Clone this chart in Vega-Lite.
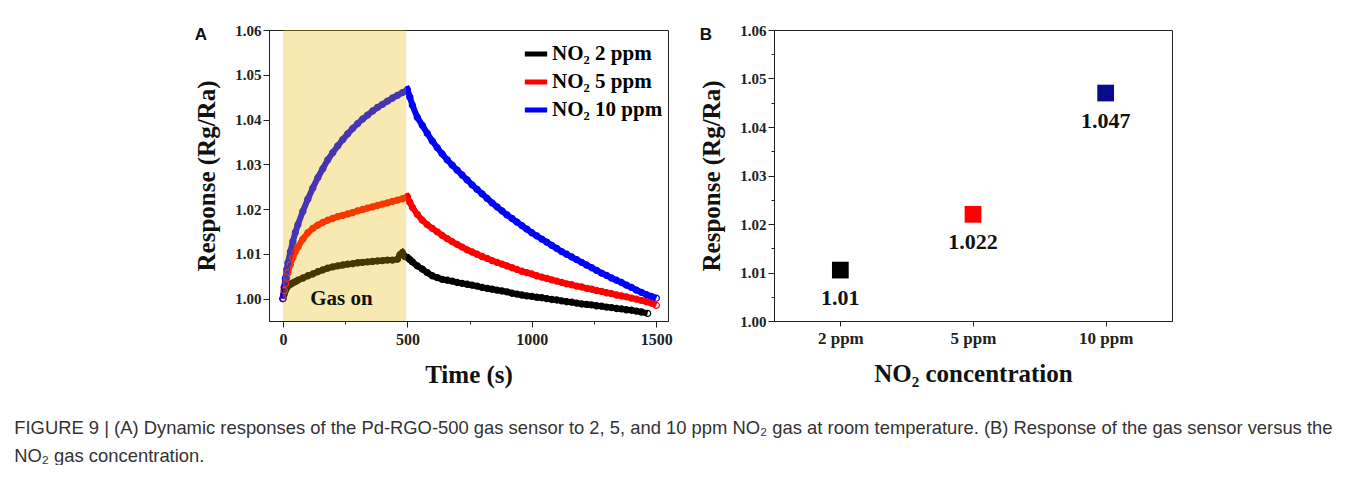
{
  "$schema": "https://vega.github.io/schema/vega-lite/v6.json",
  "background": "white",
  "padding": {"left": 14, "top": 22, "right": 0, "bottom": 0},
  "title": {
    "text": ["FIGURE 9 | (A) Dynamic responses of the Pd-RGO-500 gas sensor to 2, 5, and 10 ppm NO₂ gas at room temperature. (B) Response of the gas sensor versus the", "NO₂ gas concentration."],
    "orient": "bottom", "anchor": "start", "frame": "bounds", "dx": -180, "offset": 31,
    "font": "Liberation Sans", "fontSize": 18.4, "fontWeight": "normal", "color": "#333", "lineHeight": 28
  },
  "spacing": 26,
  "resolve": {"scale": {"color": "independent", "x": "independent", "y": "independent"}, "legend": {"color": "independent"}},
  "hconcat": [
    {
      "width": 399, "height": 291,
      "title": {"text": "A", "anchor": "start", "frame": "bounds", "font": "Liberation Sans", "fontSize": 17, "fontWeight": "bold", "color": "#111", "offset": -21},
      "layer": [
        {
          "data": {"name": "curves"},
          "mark": {"type": "line", "strokeWidth": 6},
          "encoding": {
            "x": {"field": "t", "type": "quantitative", "scale": {"domain": [-56, 1547], "nice": false, "zero": false},
              "axis": {"title": "Time (s)", "values": [0, 250, 500, 750, 1000, 1250, 1500], "labelExpr": "datum.value % 500 === 0 ? datum.label : ''", "format": "d",
                "tickSize": {"condition": {"test": "datum.value % 500 !== 0", "value": 3}, "value": 6}}},
            "y": {"field": "r", "type": "quantitative", "scale": {"domain": [0.995, 1.06], "nice": false, "zero": false},
              "axis": {"title": "Response (Rg/Ra)", "values": [1.0, 1.005, 1.01, 1.015, 1.02, 1.025, 1.03, 1.035, 1.04, 1.045, 1.05, 1.055, 1.06], "format": ".2f",
                "labelExpr": "abs(datum.value*100 - round(datum.value*100)) < 0.01 ? datum.label : ''",
                "tickSize": {"condition": {"test": "abs(datum.value*100 - round(datum.value*100)) > 0.01", "value": 3}, "value": 6}}},
            "color": {"field": "s", "type": "nominal", "scale": {"domain": ["2 ppm", "5 ppm", "10 ppm"], "range": ["#000000", "#FF0000", "#0000FF"]},
              "legend": {"title": null, "orient": "none", "legendX": 253, "legendY": 10, "symbolType": "stroke", "symbolStrokeWidth": 5, "symbolSize": 500,
                "labelFont": "Liberation Serif", "labelFontWeight": "bold", "labelFontSize": 21, "rowPadding": 4, "labelOffset": 2,
                "labelExpr": "'NO₂ ' + datum.label",
                "encoding": {"labels": {"update": {"fill": {"signal": "datum.value === '2 ppm' ? '#000000' : datum.value === '5 ppm' ? '#FF0000' : '#0000FF'"}}}}}}
          }
        },
        {
          "data": {"name": "curves"},
          "mark": {"type": "point", "filled": false, "size": 38, "strokeWidth": 1.2, "opacity": 1},
          "encoding": {
            "x": {"field": "t", "type": "quantitative"},
            "y": {"field": "r", "type": "quantitative"},
            "color": {"field": "s", "type": "nominal"}
          }
        },
        {
          "data": {"values": [{"t0": 0, "t1": 495}]},
          "mark": {"type": "rect", "color": "#E8B400", "opacity": 0.3},
          "encoding": {
            "x": {"field": "t0", "type": "quantitative"},
            "x2": {"field": "t1"}
          }
        },
        {
          "data": {"values": [{"t": 235, "r": 1.0, "label": "Gas on"}]},
          "mark": {"type": "text", "font": "Liberation Serif", "fontWeight": "bold", "fontSize": 21, "color": "#111", "baseline": "middle"},
          "encoding": {
            "x": {"field": "t", "type": "quantitative"},
            "y": {"field": "r", "type": "quantitative"},
            "text": {"field": "label"}
          }
        }
      ]
    },
    {
      "width": 398, "height": 291,
      "title": {"text": "B", "anchor": "start", "frame": "bounds", "font": "Liberation Sans", "fontSize": 17, "fontWeight": "bold", "color": "#111", "offset": -21},
      "data": {"values": [
        {"c": "2 ppm", "r": 1.0105, "lab": "1.01"},
        {"c": "5 ppm", "r": 1.022, "lab": "1.022"},
        {"c": "10 ppm", "r": 1.047, "lab": "1.047"}
      ]},
      "encoding": {
        "x": {"field": "c", "type": "nominal", "sort": null, "scale": {"type": "point", "padding": 0.5},
          "axis": {"title": "NO₂ concentration", "labelAngle": 0, "labelFontSize": 17}},
        "y": {"field": "r", "type": "quantitative", "scale": {"domain": [1.0, 1.06], "nice": false, "zero": false},
          "axis": {"title": "Response (Rg/Ra)", "values": [1.0, 1.005, 1.01, 1.015, 1.02, 1.025, 1.03, 1.035, 1.04, 1.045, 1.05, 1.055, 1.06], "format": ".2f",
            "labelExpr": "abs(datum.value*100 - round(datum.value*100)) < 0.01 ? datum.label : ''",
            "tickSize": {"condition": {"test": "abs(datum.value*100 - round(datum.value*100)) > 0.01", "value": 3}, "value": 6}}}
      },
      "layer": [
        {
          "mark": {"type": "square", "filled": true, "size": 280, "opacity": 1},
          "encoding": {"color": {"field": "c", "type": "nominal", "scale": {"domain": ["2 ppm", "5 ppm", "10 ppm"], "range": ["#000000", "#FF0000", "#0A0A8C"]}, "legend": null}}
        },
        {
          "mark": {"type": "text", "dy": 28, "font": "Liberation Serif", "fontWeight": "bold", "fontSize": 22, "color": "#111", "baseline": "middle"},
          "encoding": {"text": {"field": "lab"}}
        }
      ]
    }
  ],
  "datasets": {
    "curves": [
      {"s":"2 ppm","t":0,"r":1.0},{"s":"2 ppm","t":5,"r":1.001},{"s":"2 ppm","t":10,"r":1.0018},{"s":"2 ppm","t":15,"r":1.0024},{"s":"2 ppm","t":20,"r":1.0028},{"s":"2 ppm","t":30,"r":1.0032},{"s":"2 ppm","t":40,"r":1.0035},{"s":"2 ppm","t":50,"r":1.0038},{"s":"2 ppm","t":60,"r":1.0041},{"s":"2 ppm","t":80,"r":1.0046},{"s":"2 ppm","t":100,"r":1.0051},{"s":"2 ppm","t":120,"r":1.0055},{"s":"2 ppm","t":140,"r":1.006},{"s":"2 ppm","t":160,"r":1.0064},{"s":"2 ppm","t":180,"r":1.0068},{"s":"2 ppm","t":200,"r":1.0071},{"s":"2 ppm","t":220,"r":1.0073},{"s":"2 ppm","t":240,"r":1.0075},{"s":"2 ppm","t":260,"r":1.0077},{"s":"2 ppm","t":280,"r":1.0078},{"s":"2 ppm","t":300,"r":1.008},{"s":"2 ppm","t":320,"r":1.0081},{"s":"2 ppm","t":340,"r":1.0082},{"s":"2 ppm","t":360,"r":1.0083},{"s":"2 ppm","t":380,"r":1.0084},{"s":"2 ppm","t":400,"r":1.0085},{"s":"2 ppm","t":420,"r":1.0086},{"s":"2 ppm","t":440,"r":1.0086},{"s":"2 ppm","t":460,"r":1.0088},{"s":"2 ppm","t":470,"r":1.0098},{"s":"2 ppm","t":480,"r":1.0103},{"s":"2 ppm","t":490,"r":1.0094},{"s":"2 ppm","t":500,"r":1.0092},{"s":"2 ppm","t":510,"r":1.0087},{"s":"2 ppm","t":520,"r":1.0082},{"s":"2 ppm","t":540,"r":1.0073},{"s":"2 ppm","t":560,"r":1.0066},{"s":"2 ppm","t":580,"r":1.0058},{"s":"2 ppm","t":600,"r":1.0051},{"s":"2 ppm","t":620,"r":1.0047},{"s":"2 ppm","t":640,"r":1.0043},{"s":"2 ppm","t":660,"r":1.0041},{"s":"2 ppm","t":680,"r":1.0039},{"s":"2 ppm","t":700,"r":1.0036},{"s":"2 ppm","t":720,"r":1.0034},{"s":"2 ppm","t":740,"r":1.0032},{"s":"2 ppm","t":760,"r":1.003},{"s":"2 ppm","t":780,"r":1.0028},{"s":"2 ppm","t":800,"r":1.0025},{"s":"2 ppm","t":820,"r":1.0023},{"s":"2 ppm","t":840,"r":1.0021},{"s":"2 ppm","t":860,"r":1.0019},{"s":"2 ppm","t":880,"r":1.0017},{"s":"2 ppm","t":900,"r":1.0015},{"s":"2 ppm","t":920,"r":1.0012},{"s":"2 ppm","t":940,"r":1.001},{"s":"2 ppm","t":960,"r":1.0008},{"s":"2 ppm","t":980,"r":1.0006},{"s":"2 ppm","t":1000,"r":1.0005},{"s":"2 ppm","t":1020,"r":1.0003},{"s":"2 ppm","t":1040,"r":1.0002},{"s":"2 ppm","t":1060,"r":1.0},{"s":"2 ppm","t":1080,"r":0.9998},{"s":"2 ppm","t":1100,"r":0.9997},{"s":"2 ppm","t":1120,"r":0.9995},{"s":"2 ppm","t":1140,"r":0.9993},{"s":"2 ppm","t":1160,"r":0.9992},{"s":"2 ppm","t":1180,"r":0.999},{"s":"2 ppm","t":1200,"r":0.9988},{"s":"2 ppm","t":1220,"r":0.9987},{"s":"2 ppm","t":1240,"r":0.9986},{"s":"2 ppm","t":1260,"r":0.9984},{"s":"2 ppm","t":1280,"r":0.9983},{"s":"2 ppm","t":1300,"r":0.9981},{"s":"2 ppm","t":1320,"r":0.998},{"s":"2 ppm","t":1340,"r":0.9978},{"s":"2 ppm","t":1360,"r":0.9977},{"s":"2 ppm","t":1380,"r":0.9975},{"s":"2 ppm","t":1400,"r":0.9974},{"s":"2 ppm","t":1420,"r":0.9972},{"s":"2 ppm","t":1440,"r":0.997},{"s":"2 ppm","t":1465,"r":0.9967},
      {"s":"5 ppm","t":0,"r":1.0},{"s":"5 ppm","t":5,"r":1.0018},{"s":"5 ppm","t":10,"r":1.0033},{"s":"5 ppm","t":15,"r":1.0046},{"s":"5 ppm","t":20,"r":1.0058},{"s":"5 ppm","t":30,"r":1.0076},{"s":"5 ppm","t":40,"r":1.0092},{"s":"5 ppm","t":50,"r":1.0105},{"s":"5 ppm","t":60,"r":1.0115},{"s":"5 ppm","t":80,"r":1.0133},{"s":"5 ppm","t":100,"r":1.0147},{"s":"5 ppm","t":120,"r":1.0157},{"s":"5 ppm","t":140,"r":1.0164},{"s":"5 ppm","t":160,"r":1.017},{"s":"5 ppm","t":180,"r":1.0175},{"s":"5 ppm","t":200,"r":1.0179},{"s":"5 ppm","t":220,"r":1.0183},{"s":"5 ppm","t":240,"r":1.0186},{"s":"5 ppm","t":260,"r":1.0189},{"s":"5 ppm","t":280,"r":1.0192},{"s":"5 ppm","t":300,"r":1.0196},{"s":"5 ppm","t":320,"r":1.0199},{"s":"5 ppm","t":340,"r":1.0202},{"s":"5 ppm","t":360,"r":1.0205},{"s":"5 ppm","t":380,"r":1.0208},{"s":"5 ppm","t":400,"r":1.0211},{"s":"5 ppm","t":420,"r":1.0214},{"s":"5 ppm","t":440,"r":1.0217},{"s":"5 ppm","t":460,"r":1.022},{"s":"5 ppm","t":480,"r":1.0223},{"s":"5 ppm","t":500,"r":1.0228},{"s":"5 ppm","t":510,"r":1.0215},{"s":"5 ppm","t":520,"r":1.0204},{"s":"5 ppm","t":540,"r":1.0188},{"s":"5 ppm","t":560,"r":1.0175},{"s":"5 ppm","t":580,"r":1.0165},{"s":"5 ppm","t":600,"r":1.0157},{"s":"5 ppm","t":620,"r":1.0149},{"s":"5 ppm","t":640,"r":1.0141},{"s":"5 ppm","t":660,"r":1.0134},{"s":"5 ppm","t":680,"r":1.0127},{"s":"5 ppm","t":700,"r":1.0121},{"s":"5 ppm","t":720,"r":1.0115},{"s":"5 ppm","t":740,"r":1.0109},{"s":"5 ppm","t":760,"r":1.0104},{"s":"5 ppm","t":780,"r":1.0099},{"s":"5 ppm","t":800,"r":1.0094},{"s":"5 ppm","t":820,"r":1.009},{"s":"5 ppm","t":840,"r":1.0085},{"s":"5 ppm","t":860,"r":1.0081},{"s":"5 ppm","t":880,"r":1.0077},{"s":"5 ppm","t":900,"r":1.0073},{"s":"5 ppm","t":920,"r":1.0069},{"s":"5 ppm","t":940,"r":1.0065},{"s":"5 ppm","t":960,"r":1.0061},{"s":"5 ppm","t":980,"r":1.0058},{"s":"5 ppm","t":1000,"r":1.0055},{"s":"5 ppm","t":1020,"r":1.0051},{"s":"5 ppm","t":1040,"r":1.0048},{"s":"5 ppm","t":1060,"r":1.0045},{"s":"5 ppm","t":1080,"r":1.0042},{"s":"5 ppm","t":1100,"r":1.0039},{"s":"5 ppm","t":1120,"r":1.0036},{"s":"5 ppm","t":1140,"r":1.0033},{"s":"5 ppm","t":1160,"r":1.0031},{"s":"5 ppm","t":1180,"r":1.0028},{"s":"5 ppm","t":1200,"r":1.0026},{"s":"5 ppm","t":1220,"r":1.0023},{"s":"5 ppm","t":1240,"r":1.0021},{"s":"5 ppm","t":1260,"r":1.0018},{"s":"5 ppm","t":1280,"r":1.0016},{"s":"5 ppm","t":1300,"r":1.0013},{"s":"5 ppm","t":1320,"r":1.0011},{"s":"5 ppm","t":1340,"r":1.0008},{"s":"5 ppm","t":1360,"r":1.0006},{"s":"5 ppm","t":1380,"r":1.0004},{"s":"5 ppm","t":1400,"r":1.0001},{"s":"5 ppm","t":1420,"r":0.9999},{"s":"5 ppm","t":1440,"r":0.9996},{"s":"5 ppm","t":1460,"r":0.9993},{"s":"5 ppm","t":1480,"r":0.999},{"s":"5 ppm","t":1500,"r":0.9985},
      {"s":"10 ppm","t":0,"r":1.0},{"s":"10 ppm","t":5,"r":1.0025},{"s":"10 ppm","t":10,"r":1.0045},{"s":"10 ppm","t":15,"r":1.0065},{"s":"10 ppm","t":20,"r":1.008},{"s":"10 ppm","t":30,"r":1.0105},{"s":"10 ppm","t":40,"r":1.0128},{"s":"10 ppm","t":50,"r":1.0148},{"s":"10 ppm","t":60,"r":1.0165},{"s":"10 ppm","t":80,"r":1.0195},{"s":"10 ppm","t":100,"r":1.0222},{"s":"10 ppm","t":120,"r":1.0247},{"s":"10 ppm","t":140,"r":1.027},{"s":"10 ppm","t":160,"r":1.029},{"s":"10 ppm","t":180,"r":1.031},{"s":"10 ppm","t":200,"r":1.0326},{"s":"10 ppm","t":220,"r":1.0341},{"s":"10 ppm","t":240,"r":1.0355},{"s":"10 ppm","t":260,"r":1.0368},{"s":"10 ppm","t":280,"r":1.038},{"s":"10 ppm","t":300,"r":1.0391},{"s":"10 ppm","t":320,"r":1.0401},{"s":"10 ppm","t":340,"r":1.041},{"s":"10 ppm","t":360,"r":1.0419},{"s":"10 ppm","t":380,"r":1.0427},{"s":"10 ppm","t":400,"r":1.0434},{"s":"10 ppm","t":420,"r":1.0441},{"s":"10 ppm","t":440,"r":1.0448},{"s":"10 ppm","t":460,"r":1.0454},{"s":"10 ppm","t":480,"r":1.046},{"s":"10 ppm","t":500,"r":1.0467},{"s":"10 ppm","t":510,"r":1.045},{"s":"10 ppm","t":520,"r":1.0432},{"s":"10 ppm","t":540,"r":1.0405},{"s":"10 ppm","t":560,"r":1.0387},{"s":"10 ppm","t":580,"r":1.0369},{"s":"10 ppm","t":600,"r":1.0352},{"s":"10 ppm","t":620,"r":1.0337},{"s":"10 ppm","t":640,"r":1.0323},{"s":"10 ppm","t":660,"r":1.031},{"s":"10 ppm","t":680,"r":1.0298},{"s":"10 ppm","t":700,"r":1.0287},{"s":"10 ppm","t":720,"r":1.0276},{"s":"10 ppm","t":740,"r":1.0265},{"s":"10 ppm","t":760,"r":1.0254},{"s":"10 ppm","t":780,"r":1.0244},{"s":"10 ppm","t":800,"r":1.0234},{"s":"10 ppm","t":820,"r":1.0224},{"s":"10 ppm","t":840,"r":1.0214},{"s":"10 ppm","t":860,"r":1.0205},{"s":"10 ppm","t":880,"r":1.0196},{"s":"10 ppm","t":900,"r":1.0187},{"s":"10 ppm","t":920,"r":1.0179},{"s":"10 ppm","t":940,"r":1.0171},{"s":"10 ppm","t":960,"r":1.0163},{"s":"10 ppm","t":980,"r":1.0155},{"s":"10 ppm","t":1000,"r":1.0147},{"s":"10 ppm","t":1020,"r":1.014},{"s":"10 ppm","t":1040,"r":1.0133},{"s":"10 ppm","t":1060,"r":1.0126},{"s":"10 ppm","t":1080,"r":1.0119},{"s":"10 ppm","t":1100,"r":1.0112},{"s":"10 ppm","t":1120,"r":1.0105},{"s":"10 ppm","t":1140,"r":1.0099},{"s":"10 ppm","t":1160,"r":1.0093},{"s":"10 ppm","t":1180,"r":1.0087},{"s":"10 ppm","t":1200,"r":1.0081},{"s":"10 ppm","t":1220,"r":1.0075},{"s":"10 ppm","t":1240,"r":1.0069},{"s":"10 ppm","t":1260,"r":1.0063},{"s":"10 ppm","t":1280,"r":1.0057},{"s":"10 ppm","t":1300,"r":1.0052},{"s":"10 ppm","t":1320,"r":1.0046},{"s":"10 ppm","t":1340,"r":1.0041},{"s":"10 ppm","t":1360,"r":1.0036},{"s":"10 ppm","t":1380,"r":1.003},{"s":"10 ppm","t":1400,"r":1.0025},{"s":"10 ppm","t":1420,"r":1.0019},{"s":"10 ppm","t":1440,"r":1.0014},{"s":"10 ppm","t":1460,"r":1.0009},{"s":"10 ppm","t":1480,"r":1.0005},{"s":"10 ppm","t":1500,"r":1.0001}
    ]
  },
  "config": {
    "view": {"stroke": "#222", "strokeWidth": 1},
    "axis": {"grid": false, "domainColor": "#222", "tickColor": "#222", "labelFont": "Liberation Serif", "labelFontWeight": "bold", "labelColor": "#222", "labelFontSize": 15, "labelPadding": 2,
      "titleFont": "Liberation Serif", "titleFontWeight": "bold", "titleFontSize": 25, "titleColor": "#111"},
    "axisX": {"labelFontSize": 16, "labelPadding": 4, "titlePadding": 15},
    "axisY": {"titlePadding": 15}
  }
}
